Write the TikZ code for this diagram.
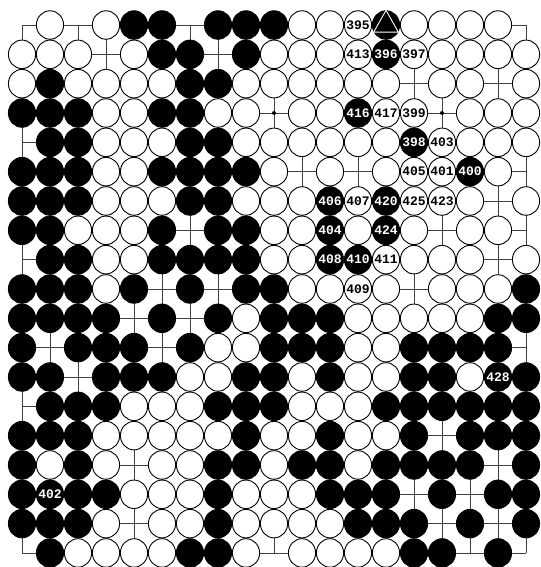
\documentclass[tikz,border=0pt]{standalone}
\usepackage{fontspec}
\setmonofont{Liberation Mono}
\usepackage{tikz}
\usetikzlibrary{shapes.geometric, positioning}

\begin{document}
\begin{tikzpicture}[
    x=28bp, y=-29.33bp,
    gridline/.style={draw=black!75, line width=0.9bp},
    stone/.style={ellipse, draw=black, line width=0.9bp, minimum width=27.2bp, minimum height=28.5bp, inner sep=0pt},
    bstone/.style={stone, fill=black},
    wstone/.style={stone, fill=white},
    num/.style={font=\ttfamily\bfseries\fontsize{13bp}{13bp}\selectfont, inner sep=0pt},
    bmove/.style={bstone, label={[num, text=white]center:#1}},
    wmove/.style={wstone, label={[num, text=black]center:#1}}
  ]
  \path[use as bounding box] (-0.7857,-0.8524) rectangle (18.5,18.479);

  \foreach \i in {0,...,18} {
    \draw[gridline] (\i,0) -- (\i,18);
    \draw[gridline] (0,\i) -- (18,\i);
  }
  \foreach \c in {3,9,15}
    \foreach \r in {3,9,15}
      \fill[black] (\c,\r) circle (2bp);

  % black stones
  \foreach \r/\cols in {0/{4,5,7,8,9}, 1/{5,6,8}, 2/{1,6,7}, 3/{0,1,2,5,6},
      4/{1,2,6,7}, 5/{0,1,2,5,6,7,8}, 6/{0,1,2,6,7}, 7/{0,1,5,7,8},
      8/{1,2,5,6,7,8}, 9/{0,1,2,4,6,8,9,18}, 10/{0,1,2,3,5,7,9,10,11,17,18},
      11/{0,2,3,4,6,9,10,11,14,15,16,17}, 12/{0,1,3,4,5,8,9,11,14,15,18},
      13/{1,2,3,7,8,9,13,14,15,16,17,18}, 14/{0,1,2,8,11,14,16,17,18},
      15/{0,2,7,8,10,11,13,14,15,16,18}, 16/{0,2,3,7,11,12,13,15,17,18},
      17/{0,1,2,7,12,13,14,16,18}, 18/{1,6,7,14,15,17}}
    \foreach \c in \cols
      \node[bstone] (b-\c-\r) at (\c,\r) {};

  % white stones
  \foreach \r/\cols in {0/{1,3,10,11,14,15,16,17}, 1/{0,1,2,4,9,10,11,15,16,17,18},
      2/{0,2,3,4,5,8,9,10,11,12,13,15,16,18}, 3/{3,4,7,8,10,11,16,17,18},
      4/{3,4,5,8,9,10,11,12,13,16,17,18}, 5/{3,4,9,11,13,17},
      6/{3,4,5,8,9,10,16,18}, 7/{2,3,4,9,10,12,14,16,17},
      8/{3,4,9,10,14,15,16,18}, 9/{3,10,11,13,15,16,17}, 10/{8,12,13,14,15,16},
      11/{7,8,12,13}, 12/{6,7,10,12,13,16}, 13/{4,5,6,10,11,12},
      14/{3,4,5,6,7,9,10,12,13}, 15/{1,3,5,6,9,12}, 16/{4,5,6,8,9,10},
      17/{3,5,6,8,9,10,11}, 18/{2,3,4,5,8,10,11,12,13}}
    \foreach \c in \cols
      \node[wstone] (w-\c-\r) at (\c,\r) {};

  % numbered moves
  \node[bstone] (mark) at (13,0) {};
  \draw[white, line width=0.9bp] (mark.90) -- (mark.210) -- (mark.330) -- cycle;
  \node[wmove=395] (m395) at (12,0) {};
  \node[bmove=396] (m396) at (13,1) {};
  \node[wmove=397] (m397) at (14,1) {};
  \node[bmove=398] (m398) at (14,4) {};
  \node[wmove=399] (m399) at (14,3) {};
  \node[bmove=400] (m400) at (16,5) {};
  \node[wmove=401] (m401) at (15,5) {};
  \node[bmove=402] (m402) at (1,16) {};
  \node[wmove=403] (m403) at (15,4) {};
  \node[bmove=404] (m404) at (11,7) {};
  \node[wmove=405] (m405) at (14,5) {};
  \node[bmove=406] (m406) at (11,6) {};
  \node[wmove=407] (m407) at (12,6) {};
  \node[bmove=408] (m408) at (11,8) {};
  \node[wmove=409] (m409) at (12,9) {};
  \node[bmove=410] (m410) at (12,8) {};
  \node[wmove=411] (m411) at (13,8) {};
  \node[wmove=413] (m413) at (12,1) {};
  \node[bmove=416] (m416) at (12,3) {};
  \node[wmove=417] (m417) at (13,3) {};
  \node[bmove=420] (m420) at (13,6) {};
  \node[wmove=423] (m423) at (15,6) {};
  \node[bmove=424] (m424) at (13,7) {};
  \node[wmove=425] (m425) at (14,6) {};
  \node[bmove=428] (m428) at (17,12) {};
\end{tikzpicture}
\end{document}
